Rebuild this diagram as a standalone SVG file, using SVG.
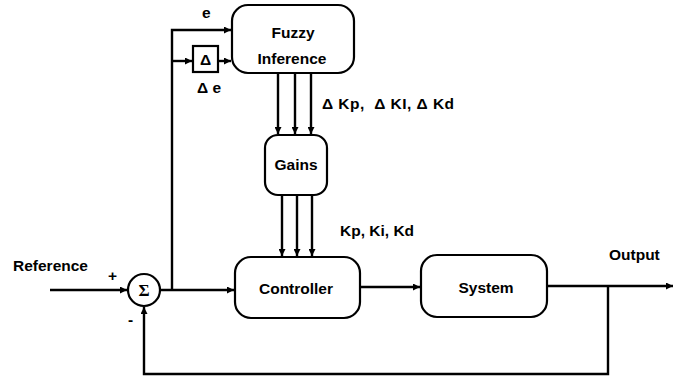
<svg xmlns="http://www.w3.org/2000/svg" width="676" height="384" viewBox="0 0 676 384">
<style>
.box{fill:#fff;stroke:#000;stroke-width:2.2}
.ln{fill:none;stroke:#000;stroke-width:2.4}
.t{font-family:"Liberation Sans",Arial,sans-serif;font-size:15.5px;font-weight:bold;fill:#000}
.m{text-anchor:middle}
</style>
<defs>
<marker id="ah" viewBox="0 0 10 10" refX="10" refY="5" markerWidth="9" markerHeight="7" markerUnits="userSpaceOnUse" orient="auto">
<path d="M0,0 L10,5 L0,10 z" fill="#000"/>
</marker>
</defs>
<rect width="676" height="384" fill="#fff"/>
<g id="connectors">
<path class="ln" d="M172,290 V30 H231" marker-end="url(#ah)"/>
<path class="ln" d="M172,61 H192" marker-end="url(#ah)"/>
<path class="ln" d="M218,61 H231" marker-end="url(#ah)"/>
<path class="ln" d="M278,73 V134" marker-end="url(#ah)"/>
<path class="ln" d="M295,73 V134" marker-end="url(#ah)"/>
<path class="ln" d="M311,73 V134" marker-end="url(#ah)"/>
<path class="ln" d="M282,195 V256" marker-end="url(#ah)"/>
<path class="ln" d="M297,195 V256" marker-end="url(#ah)"/>
<path class="ln" d="M312,195 V256" marker-end="url(#ah)"/>
<path class="ln" d="M50,290 H127" marker-end="url(#ah)"/>
<path class="ln" d="M160,290 H234" marker-end="url(#ah)"/>
<path class="ln" d="M360,287 H420" marker-end="url(#ah)"/>
<path class="ln" d="M547,286 H673" marker-end="url(#ah)"/>
<path class="ln" d="M608,286 V374 H144 V307" marker-end="url(#ah)"/>
</g>
<g id="fuzzy">
<rect class="box" x="232" y="5" width="122" height="68" rx="16"/>
<text class="t m" x="293" y="38">Fuzzy</text>
<text class="t m" x="292" y="64">Inference</text>
</g>
<g id="delta">
<rect class="box" x="193" y="46" width="25" height="26"/>
<text class="t m" x="205.5" y="65">Δ</text>
</g>
<g id="gains">
<rect class="box" x="265" y="135" width="62" height="60" rx="13"/>
<text class="t m" x="296" y="170">Gains</text>
</g>
<g id="controller">
<rect class="box" x="235" y="257" width="125" height="61" rx="16"/>
<text class="t m" x="296" y="294">Controller</text>
</g>
<g id="system">
<rect class="box" x="421" y="255" width="126" height="62" rx="16"/>
<text class="t m" x="486" y="293">System</text>
</g>
<g id="sum">
<circle class="box" cx="144" cy="290" r="16"/>
<text x="144" y="296" text-anchor="middle" font-family="Liberation Serif,serif" font-weight="bold" font-size="17">Σ</text>
</g>
<g id="labels">
<text class="t" x="202" y="18">e</text>
<text class="t" x="197" y="93">Δ e</text>
<text class="t" x="322" y="109" xml:space="preserve" textLength="132" lengthAdjust="spacing">Δ Kp,  Δ KI, Δ Kd</text>
<text class="t" x="340" y="236">Kp, Ki, Kd</text>
<text class="t" x="13" y="271">Reference</text>
<text class="t" x="108" y="281">+</text>
<text class="t" x="128" y="325">-</text>
<text class="t" x="609" y="260">Output</text>
</g>
</svg>
